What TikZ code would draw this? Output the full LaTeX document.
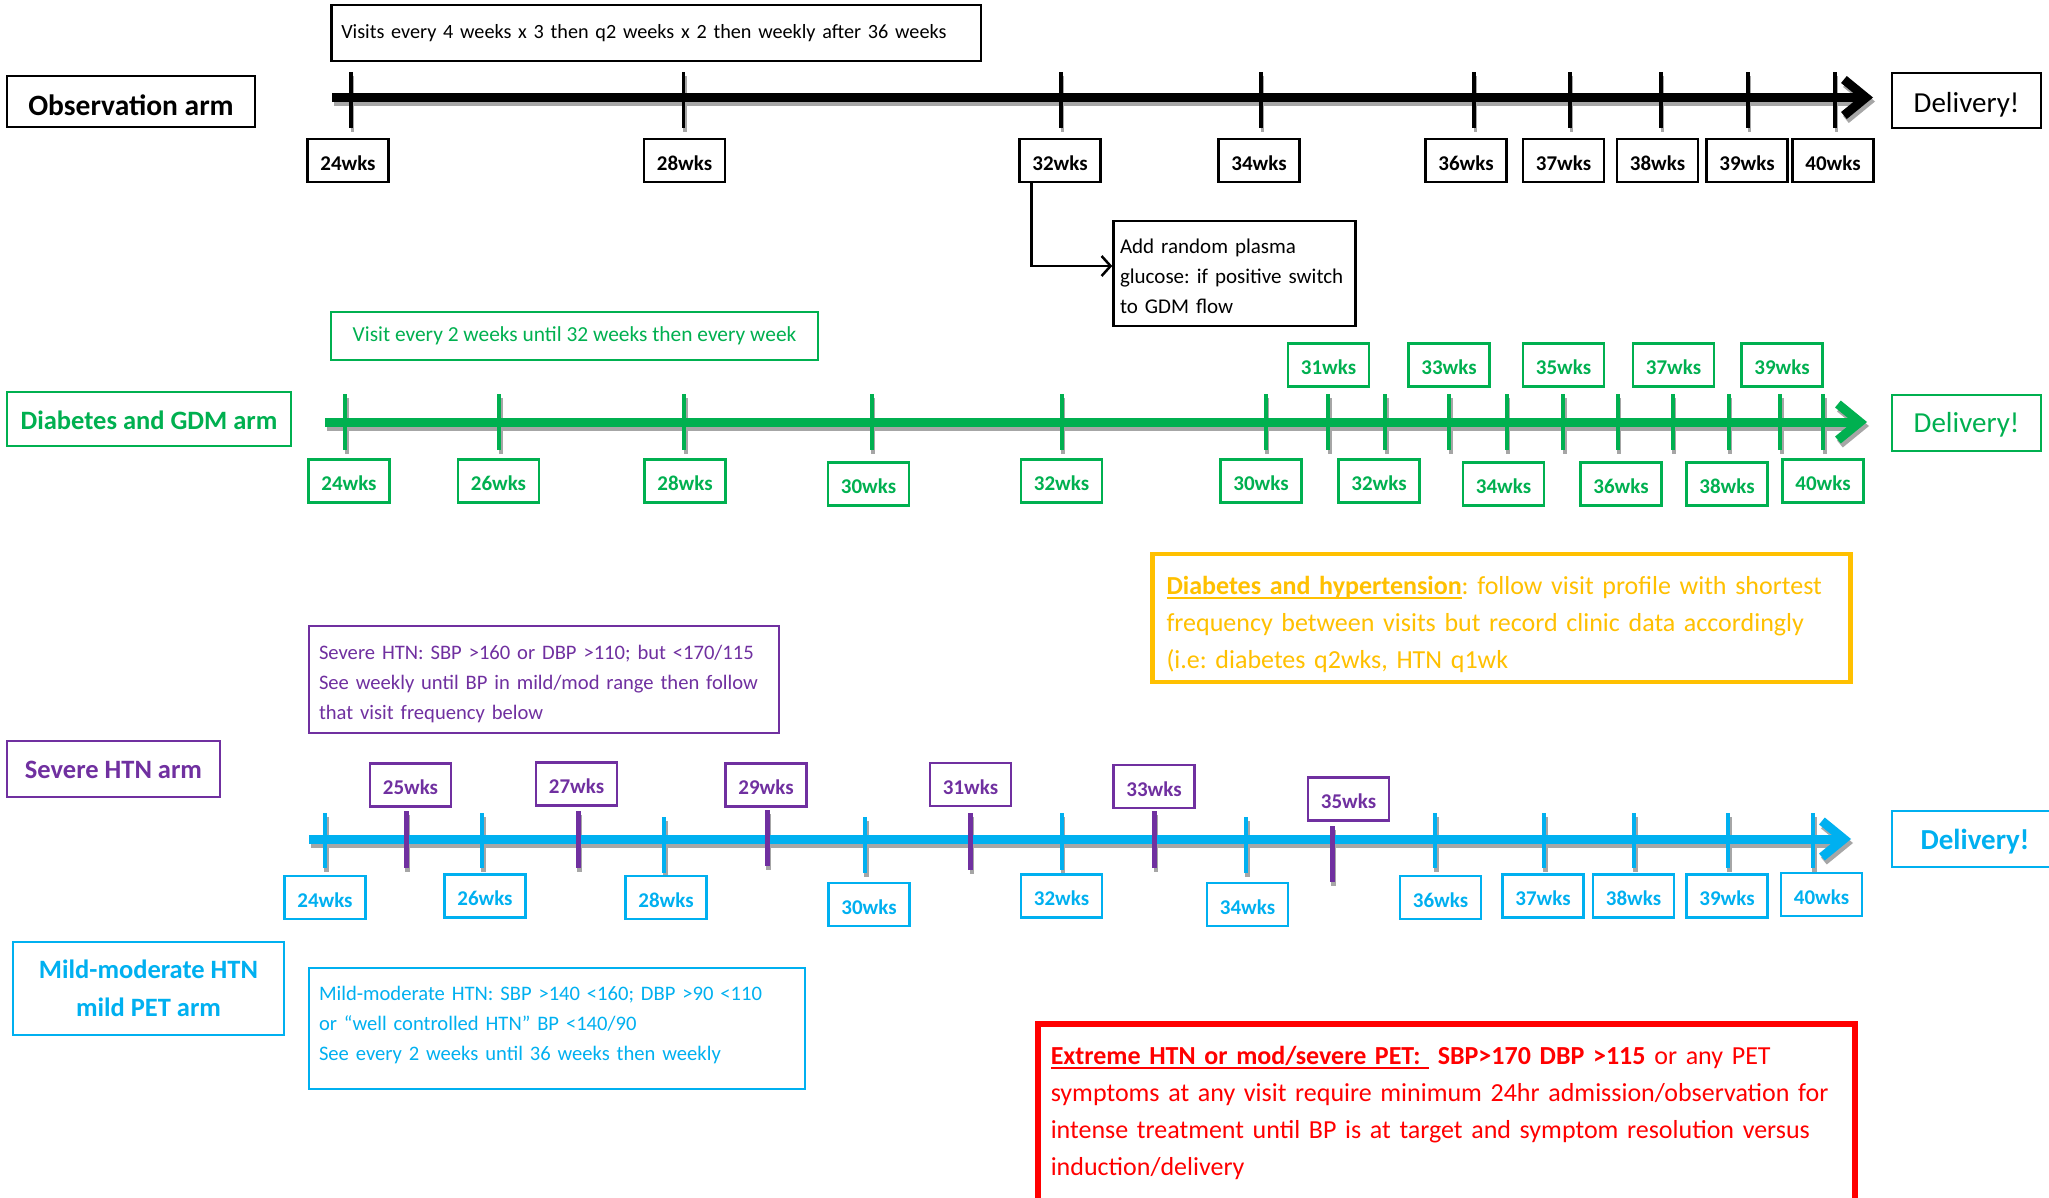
\documentclass[tikz,border=0pt]{standalone}
\usepackage{fontspec}
\setmainfont{Carlito}
\usetikzlibrary{arrows.meta}
\definecolor{cgreen}{HTML}{00B050}
\definecolor{cblue}{HTML}{00B0F0}
\definecolor{cpurple}{HTML}{7030A0}
\definecolor{cyellow}{HTML}{FFC000}
\definecolor{cred}{HTML}{FF0000}
\definecolor{cshadow}{HTML}{A6A6A6}
\newcommand\myfs[2]{\fontsize{#1}{#2}\selectfont}
\newcommand\myul[2]{\setbox0=\hbox{#2}\rlap{\rule[#1]{\wd0}{2pt}}\box0}
\tikzset{
  wk/.style={draw, line width=2.5, minimum width=81, minimum height=43, inner sep=0, text height=19, text depth=0, font=\myfs{21}{25}\bfseries},
  armbox/.style={draw, line width=2.5, inner sep=0, align=center},
  descbox/.style={draw, line width=2.5, inner xsep=10, inner ysep=0, align=left, font=\myfs{20.6}{30}},
  axisline/.style={line width=9, -{Straight Barb[length=22, width=36, line join=miter]}},
  shadowline/.style={cshadow},
}
\begin{document}
\frenchspacing
\begin{tikzpicture}[x=1pt,y=-1pt]
\clip (0,0) rectangle (2049,1197);
\fill[white] (0,0) rectangle (2049,1197);

% ---------------- Observation arm ----------------
\coordinate (oS) at (332,97.5);
\coordinate (oE) at (1873,97.5);
\draw[axisline, shadowline] ([shift={(2,4)}]oS) -- ([shift={(2,4)}]oE);
\foreach \x in {351,683.5,1061,1261,1474,1570,1661,1748,1835}
  \draw[cshadow, line width=3.5] (\x+1.5,76) -- (\x+1.5,132);
\draw[axisline, black] (oS) -- (oE);
\foreach \x in {351,683.5,1061,1261,1474,1570,1661,1748,1835}
  \draw[black, line width=3.5] (\x,72) -- (\x,128);

\node[armbox, minimum width=248, minimum height=51, text height=27, text depth=0, font=\myfs{29.5}{35}\bfseries] (obsarm) at (131,101.5) {Observation arm};
\node[armbox, minimum width=149, minimum height=55, text height=24, text depth=0, font=\myfs{29}{35}] (obsdel) at (1966.5,100.5) {Delivery!};
\node[draw, line width=2.5, minimum height=56, inner xsep=10, inner ysep=0, text width=629.5, align=left, font=\myfs{20.2}{25}] (obsnote) at (656,33) {\mbox{Visits every 4 weeks x 3 then q2 weeks x 2 then weekly after 36 weeks}};
\foreach \n/\x in {24/348,28/684.5,32/1060,34/1259,36/1466,37/1563.5,38/1657.5,39/1747,40/1833}
  \node[wk] (o\n) at (\x,160.5) {\n wks};

\node[descbox, font=\myfs{21}{30}, inner xsep=6.5, text width=229, minimum height=105, text height=15, text depth=56] (glu) at (1234.5,273.5) {\mbox{Add random plasma}\\\mbox{glucose: if positive switch}\\\mbox{to GDM flow}};
\draw[line width=2.5, -{Straight Barb[length=9, width=20]}] ([xshift=13]o32.south west) |- ([yshift=7.5]glu.west);

% ---------------- Diabetes and GDM arm ----------------
\coordinate (gS) at (325,422);
\coordinate (gE) at (1867,422);
\draw[axisline, shadowline] ([shift={(2,4)}]gS) -- ([shift={(2,4)}]gE);
\foreach \x in {345,499,684,871.5,1061.5,1265.5,1328,1385,1449,1506.5,1563,1617.5,1672.5,1728.5,1780,1823}
  \draw[cshadow, line width=4] (\x+1.5,398) -- (\x+1.5,454);
\draw[axisline, cgreen] (gS) -- (gE);
\foreach \x in {345,499,684,871.5,1061.5,1265.5,1328,1385,1449,1506.5,1563,1617.5,1672.5,1728.5,1780,1823}
  \draw[cgreen, line width=4] (\x,394) -- (\x,450);

\node[armbox, draw=cgreen, text=cgreen, minimum width=284, minimum height=54, text height=21, text depth=0, font=\myfs{26.5}{32}\bfseries] (gdmarm) at (149,419) {Diabetes and GDM arm};
\node[armbox, draw=cgreen, text=cgreen, minimum width=149, minimum height=56, text height=19, text depth=0, font=\myfs{29}{35}] (gdmdel) at (1966.5,423) {Delivery!};
\node[draw=cgreen, text=cgreen, line width=2.5, minimum width=487, minimum height=48, inner sep=0, font=\myfs{21.4}{25}] (gdmnote) at (574.5,336) {Visit every 2 weeks until 32 weeks then every week};
\foreach \n/\x/\y in {24/349/481,26/498.5/481,28/685/481,30/868.5/484,32/1061.5/481,30/1261/481,32/1379/481,34/1503.5/484,36/1621/484,38/1727/484,40/1823/481}
  \node[wk, draw=cgreen, text=cgreen] (g\n-\x) at (\x,\y) {\n wks};
\foreach \n/\x in {31/1328.5,33/1449,35/1563.5,37/1673.5,39/1782}
  \node[wk, draw=cgreen, text=cgreen] (g\n) at (\x,365) {\n wks};

% ---------------- Diabetes and hypertension note ----------------
\node[draw=cyellow, line width=4.5, text=cyellow, inner xsep=14, inner ysep=0, text width=670, minimum height=128, text height=29, text depth=76.5, align=left, font=\myfs{26}{37}] (dh) at (1501.5,618) {\myul{-5pt}{\textbf{Diabetes and hypertension}}: follow visit profile with shortest\\frequency between visits but record clinic data accordingly\\(i.e: diabetes q2wks, HTN q1wk};

% ---------------- Severe HTN arm ----------------
\node[descbox, draw=cpurple, text=cpurple, text width=450, minimum height=107, text height=19, text depth=60] (sevnote) at (544,679.5) {Severe HTN: SBP >160 or DBP >110; but <170/115\\See weekly until BP in mild/mod range then follow\\that visit frequency below};
\node[armbox, draw=cpurple, text=cpurple, minimum width=213, minimum height=56, text height=19, text depth=0, font=\myfs{26.5}{32}\bfseries] (sevarm) at (113.5,769) {Severe HTN arm};

\coordinate (bS) at (309,839);
\coordinate (bE) at (1851,839);
\draw[axisline, shadowline] ([shift={(2,4)}]bS) -- ([shift={(2,4)}]bE);
\foreach \x/\a/\b in {325/813/868,482/813/868,664/817/873,865/817/873,1061.5/813/870,1246/817/873,1435/813/868,1544/813/868,1634/813/868,1728/813/868,1813/813/868,406/811/868,578/811/868,767/810/866,970.5/813/870,1154.5/811/868,1332/826/882}
  \draw[cshadow, line width=4.5] (\x+1.5,\a+4) -- (\x+1.5,\b+4);
\draw[axisline, cblue] (bS) -- (bE);
\foreach \x/\a/\b in {325/813/868,482/813/868,664/817/873,865/817/873,1061.5/813/870,1246/817/873,1435/813/868,1544/813/868,1634/813/868,1728/813/868,1813/813/868}
  \draw[cblue, line width=4] (\x,\a) -- (\x,\b);
\foreach \x/\a/\b in {406/811/868,578/811/868,767/810/866,970.5/813/870,1154.5/811/868,1332/826/882}
  \draw[cpurple, line width=5] (\x,\a) -- (\x,\b);

\node[armbox, draw=cblue, text=cblue, minimum width=166, minimum height=56, text height=21, text depth=0, font=\myfs{29}{35}\bfseries] (bdel) at (1975,839) {Delivery!};
\foreach \n/\x/\y in {24/325/897.5,26/485/896,28/666/897.5,30/869/904.5,32/1061.5/896,34/1247.5/904.5,36/1440.5/897.5,37/1543/896,38/1633.5/896,39/1727/896,40/1821.5/894.5}
  \node[wk, draw=cblue, text=cblue] (b\n) at (\x,\y) {\n wks};
\foreach \n/\x/\y in {25/410.5/785,27/576.5/784,29/766/785,31/970.5/784.5,33/1154/786.5,35/1348.5/799}
  \node[wk, draw=cpurple, text=cpurple] (p\n) at (\x,\y) {\n wks};

% ---------------- Mild-moderate arm ----------------
\node[armbox, draw=cblue, text=cblue, minimum width=271, minimum height=93, font=\myfs{26.5}{38}\bfseries] (mildarm) at (148.5,988.5) {Mild-moderate HTN\\mild PET arm};
\node[descbox, draw=cblue, text=cblue, text width=476, minimum height=121, text height=15, text depth=71] (mildnote) at (557,1028.5) {Mild-moderate HTN: SBP >140 <160; DBP >90 <110\\or “well controlled HTN” BP <140/90\\See every 2 weeks until 36 weeks then weekly};

% ---------------- Extreme HTN note ----------------
\node[draw=cred, line width=5.5, text=cred, anchor=north west, inner xsep=13, inner ysep=19, text width=791, text height=22, text depth=170, align=left, font=\myfs{26}{37}] (ext) at (1035,1021) {\myul{-4.5pt}{\textbf{Extreme HTN or mod/severe PET:\ }}\ \textbf{SBP>170 DBP >115} or any PET\\symptoms at any visit require minimum 24hr admission/observation for\\intense treatment until BP is at target and symptom resolution versus\\induction/delivery};
\end{tikzpicture}
\end{document}
